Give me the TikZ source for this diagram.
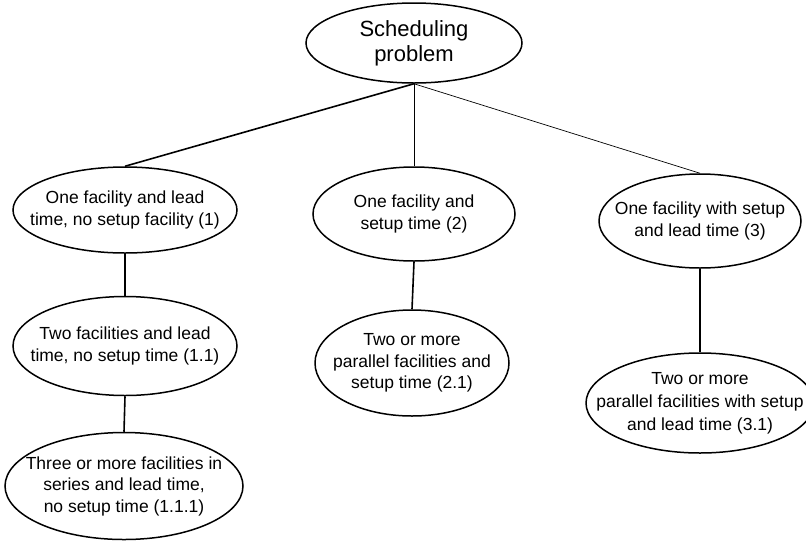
\documentclass[tikz,border=0pt]{standalone}
\usepackage{fontspec}
\setmainfont{Liberation Sans}
\usetikzlibrary{shapes.geometric}
\begin{document}
\begin{tikzpicture}[x=1pt,y=-1pt,
  oval/.style={draw, ellipse, line width=1.5pt, inner sep=0pt},
  txt/.style={align=center, font=\fontsize{17.5}{21.5}\selectfont},
  thick link/.style={line width=1.6pt},
  thin link/.style={line width=0.9pt},
  hair link/.style={line width=0.7pt}]
\useasboundingbox (0,0) rectangle (806,542);
\node[oval, minimum width=216pt, minimum height=80pt] (root) at (414,43) {};
\node[align=center, font=\fontsize{22}{25}\selectfont] (rootlab) at (root.center) {Scheduling\\problem};
\node[oval, minimum width=224pt, minimum height=86pt] (n1) at (125,210) {};
\node[txt] (n1lab) at (n1.center) {One facility and lead\\time, no setup facility (1)};
\node[oval, minimum width=224pt, minimum height=99pt] (n11) at (125,346) {};
\node[txt] (n11lab) at (n11.center) {Two facilities and lead\\time, no setup time (1.1)};
\node[oval, minimum width=238pt, minimum height=107pt] (n111) at (124,486) {};
\node[txt] (n111lab) at (n111.center) {Three or more facilities in\\series and lead time,\\ no setup time (1.1.1)};
\node[oval, minimum width=202pt, minimum height=94pt] (n2) at (414,214) {};
\node[txt] (n2lab) at (n2.center) {One facility and\\setup time (2)};
\node[oval, minimum width=194pt, minimum height=106pt] (n21) at (412,363) {};
\node[txt] (n21lab) at (n21.center) {Two or more\\parallel facilities and\\setup time (2.1)};
\node[oval, minimum width=202pt, minimum height=94pt] (n3) at (700,221) {};
\node[txt] (n3lab) at (n3.center) {One facility with setup\\and lead time (3)};
\node[oval, minimum width=228pt, minimum height=100pt] (n31) at (700,403) {};
\node[txt, font=\fontsize{17.5}{23}\selectfont] (n31lab) at (n31.center) {Two or more\\parallel facilities with setup\\and lead time (3.1)};
\draw[thick link] (root.south) -- (n1.north);
\draw[thin link] (root.south) -- (n2.north);
\draw[hair link] (root.south) -- (n3.north);
\draw[thick link] (n1.south) -- (n11.north);
\draw[thick link] (n11.south) -- (n111.north);
\draw[thick link] (n2.south) -- (n21.north);
\draw[thick link] (n3.south) -- (n31.north);
\end{tikzpicture}
\end{document}
